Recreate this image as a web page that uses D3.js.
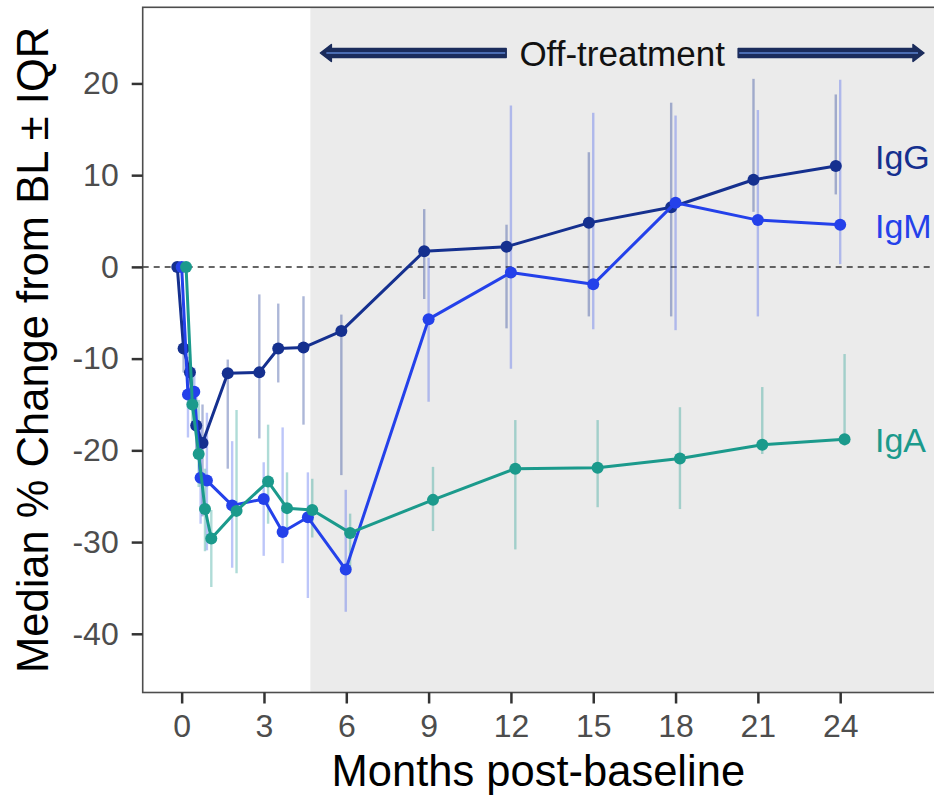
<!doctype html>
<html>
<head>
<meta charset="utf-8">
<style>
    body {
        margin: 0;
        background: #fff;
        font-family: 'Liberation Sans', Arial, sans-serif;
    }

    svg {
        display: block;
    }

    .axis text {
        font-size: 32px;
        fill: #4d4d4d;
        font-family: 'Liberation Sans', Arial, sans-serif;
    }

    .axis line {
        stroke: #333;
        stroke-width: 2.5;
    }

    .axis path {
        display: none;
    }

    text.title {
        font-size: 43.5px;
        fill: #000;
    }

    text.series-label {
        font-size: 34px;
    }

    text.note {
        font-size: 35px;
        fill: #111;
    }

    line.zero {
        stroke: #333;
        stroke-width: 1.5;
        stroke-dasharray: 6 5;
    }
</style>
<script src="https://d3js.org/d3.v7.min.js"></script>
</head>
<body>
<svg width="934" height="796"></svg>
<script>
    // visit times in months (weeks 1-4, 8, 13, 16, 20, 26, then quarterly)
    const months = [0, 0.23, 0.46, 0.69, 0.92, 1.84, 2.99, 3.68, 4.6, 5.98, 9, 12, 15, 18, 21, 24];

    const igG   = [0, -8.9, -11.5, -17.3, -19.2, -11.6, -11.5, -8.9, -8.8, -7.0, 1.7, 2.2, 4.8, 6.5, 9.5, 11.0];
    const igGHi = [0, -6.5, -9.5, -13.5, -15.0, -10.1, -3.0, -4.0, -3.2, -5.2, 6.3, 4.6, 12.5, 17.9, 20.5, 18.8];
    const igGLo = [0, -11.5, -14.5, -20.0, -27.2, -22.0, -18.7, -12.6, -17.2, -22.7, -3.5, -6.7, -5.4, -5.4, 6.0, 7.9];

    const igM   = [0, -13.9, -13.6, -23.0, -23.3, -26.0, -25.3, -28.9, -27.3, -33.0, -5.7, -0.6, -1.9, 7.0, 5.1, 4.6];
    const igMHi = [0, -9.8, -11.0, -17.5, -15.9, -19.0, -21.3, -17.5, -22.4, -24.3, 1.0, 17.6, 16.8, 16.5, 17.1, 20.4];
    const igMLo = [0, -18.6, -17.0, -28.0, -30.9, -32.8, -31.5, -32.3, -36.1, -37.6, -14.7, -11.1, -6.8, -6.9, -5.4, 0.3];

    const igA   = [0, -15.0, -20.4, -26.4, -29.6, -26.6, -23.4, -26.3, -26.5, -29.0, -25.4, -22.0, -21.9, -20.9, -19.4, -18.8];
    const igAHi = [0, -12.0, -14.5, -22.0, -26.5, -15.6, -17.2, -22.4, -23.1, -26.9, -21.8, -16.7, -16.7, -15.3, -13.1, -9.5];
    const igALo = [0, -17.0, -24.0, -31.0, -34.9, -33.4, -28.0, -28.8, -29.5, -32.9, -28.8, -30.8, -26.2, -26.4, -20.4, -19.5];

    const xTicks = [0, 3, 6, 9, 12, 15, 18, 21, 24];
    const yTicks = [-40, -30, -20, -10, 0, 10, 20];
    const offStart = 4.69;   // start of off-treatment period (months)

    const series = [
        { name: 'IgG', values: igG, lo: igGLo, hi: igGHi, color: '#15308f', barOpacity: 0.35, dodge: -0.16, nudge: -9 },
        { name: 'IgM', values: igM, lo: igMLo, hi: igMHi, color: '#2441ea', barOpacity: 0.3, dodge: 0, nudge: 1.5 },
        { name: 'IgA', values: igA, lo: igALo, hi: igAHi, color: '#1b9a8c', barOpacity: 0.35, dodge: 0.16, nudge: 1 }
    ];

    const svg = d3.select('svg');
    const W = 934;

    const panel = { left: 142.7, top: 7.3, right: 945, bottom: 692.5 };

    const x = d3.scaleLinear()
        .domain([-1.42, 27.82])
        .range([panel.left, panel.right]);

    const y = d3.scaleLinear()
        .domain([-46.4, 28.3])
        .range([panel.bottom, panel.top]);

    // panel background + off-treatment shading
    svg.append('rect')
        .attr('x', panel.left).attr('y', panel.top)
        .attr('width', panel.right - panel.left).attr('height', panel.bottom - panel.top)
        .attr('fill', '#fff');

    svg.append('rect')
        .attr('x', x(offStart)).attr('y', panel.top)
        .attr('width', panel.right - x(offStart)).attr('height', panel.bottom - panel.top)
        .attr('fill', '#ebebeb');

    svg.append('line')
        .attr('class', 'zero')
        .attr('x1', panel.left).attr('x2', panel.right)
        .attr('y1', y(0)).attr('y2', y(0));

    // error bars (IQR)
    series.forEach(s => {
        svg.append('g')
            .selectAll('line')
            .data(months.map((m, i) => ({ m: m, lo: s.lo[i], hi: s.hi[i] })).filter(d => d.hi !== d.lo))
            .join('line')
            .attr('x1', d => x(d.m + s.dodge))
            .attr('x2', d => x(d.m + s.dodge))
            .attr('y1', d => y(d.lo))
            .attr('y2', d => y(d.hi))
            .attr('stroke', s.color)
            .attr('stroke-opacity', s.barOpacity)
            .attr('stroke-width', 2.4);
    });

    const line = d3.line()
        .x(d => x(d.m))
        .y(d => y(d.v));

    series.forEach(s => {
        const pts = months.map((m, i) => ({ m: m + s.dodge, v: s.values[i] }));
        const g = svg.append('g');

        g.append('path')
            .datum(pts)
            .attr('d', line)
            .attr('fill', 'none')
            .attr('stroke', s.color)
            .attr('stroke-width', 3)
            .attr('stroke-linejoin', 'round');

        g.selectAll('circle')
            .data(pts)
            .join('circle')
            .attr('cx', d => x(d.m))
            .attr('cy', d => y(d.v))
            .attr('r', 6)
            .attr('fill', s.color);

        svg.append('text')
            .attr('class', 'series-label')
            .attr('x', 875)
            .attr('y', y(s.values[s.values.length - 1]) + s.nudge)
            .attr('dominant-baseline', 'central')
            .attr('fill', s.color)
            .text(s.name);
    });

    // off-treatment arrow
    const ay = 53;
    const aL = x(offStart) + 10;
    const aR = W - 10;
    const aMid = (aL + aR) / 2;
    const gap = 116;

    const arrowPiece = (x0, x1, headAtLeft) => {
        const sh = 4.5, hh = 8.5, hl = 11;
        let pts;
        if (headAtLeft) {
            pts = [[x0, ay], [x0 + hl, ay - hh], [x0 + hl, ay - sh], [x1, ay - sh], [x1, ay + sh], [x0 + hl, ay + sh], [x0 + hl, ay + hh]];
        } else {
            pts = [[x1, ay], [x1 - hl, ay - hh], [x1 - hl, ay - sh], [x0, ay - sh], [x0, ay + sh], [x1 - hl, ay + sh], [x1 - hl, ay + hh]];
        }
        svg.append('polygon')
            .attr('points', pts.map(p => p.join(',')).join(' '))
            .attr('fill', '#1b2c5c')
            .attr('stroke', '#1b2c5c')
            .attr('stroke-width', 1.5)
            .attr('stroke-linejoin', 'round');
        svg.append('line')
            .attr('x1', headAtLeft ? x0 + 6 : x0 + 1)
            .attr('x2', headAtLeft ? x1 - 1 : x1 - 6)
            .attr('y1', ay).attr('y2', ay)
            .attr('stroke', '#4b6db3')
            .attr('stroke-width', 2);
    };

    arrowPiece(aL, aMid - gap, true);
    arrowPiece(aMid + gap, aR, false);

    svg.append('text')
        .attr('class', 'note')
        .attr('x', aMid)
        .attr('y', ay)
        .attr('text-anchor', 'middle')
        .attr('dominant-baseline', 'central')
        .text('Off-treatment');

    // panel border
    svg.append('rect')
        .attr('x', panel.left).attr('y', panel.top)
        .attr('width', panel.right - panel.left).attr('height', panel.bottom - panel.top)
        .attr('fill', 'none')
        .attr('stroke', '#4d4d4d')
        .attr('stroke-width', 1.6);

    // axes
    svg.append('g')
        .attr('class', 'axis')
        .attr('transform', `translate(${panel.left}, 0)`)
        .call(d3.axisLeft(y).tickValues(yTicks).tickSize(11).tickPadding(13).tickFormat(d => String(d)));

    svg.append('g')
        .attr('class', 'axis')
        .attr('transform', `translate(0, ${panel.bottom})`)
        .call(d3.axisBottom(x).tickValues(xTicks).tickSize(11).tickPadding(11).tickFormat(d => String(d)));

    svg.append('text')
        .attr('class', 'title')
        .attr('transform', `translate(48, ${(panel.top + panel.bottom) / 2}) rotate(-90)`)
        .attr('text-anchor', 'middle')
        .text('Median % Change from BL \u00b1 IQR');

    svg.append('text')
        .attr('class', 'title')
        .attr('x', (panel.left + W) / 2)
        .attr('y', 786)
        .attr('text-anchor', 'middle')
        .text('Months post-baseline');
</script>
</body>
</html>
